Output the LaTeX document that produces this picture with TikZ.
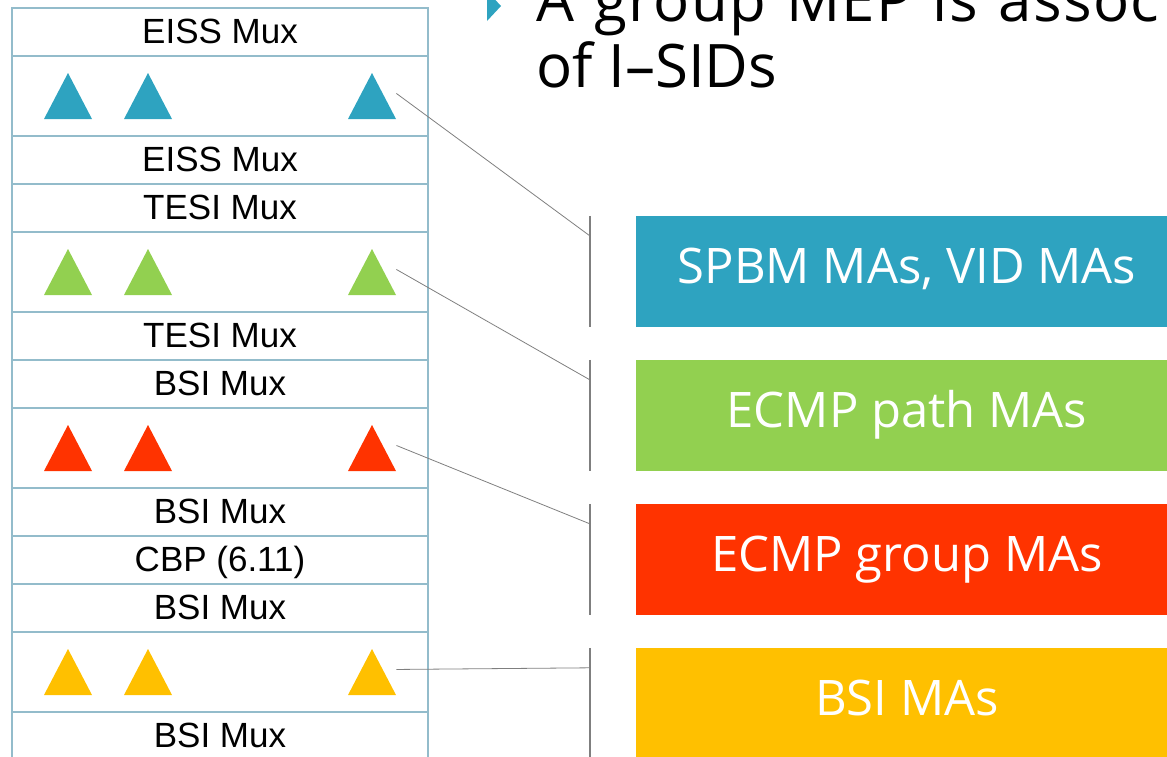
\documentclass[tikz,border=0pt]{standalone}
\usepackage{fontspec}
\setmainfont{Liberation Sans}
\newfontfamily\slidefont{Open Sans}
\usepackage{tikz}
\usetikzlibrary{calc,positioning,shapes.geometric}
\definecolor{stackEdge}{HTML}{93BCCB}
\definecolor{maBlue}{HTML}{2EA3C0}
\definecolor{maGreen}{HTML}{92D050}
\definecolor{maRed}{HTML}{FF3300}
\definecolor{maYellow}{HTML}{FFC000}
\definecolor{figGray}{HTML}{7F7F7F}

\begin{document}
\begin{tikzpicture}[
  x=1pt, y=-1pt,
  muxrow/.style={draw=stackEdge, line width=1.5pt, minimum width=416pt,
    minimum height=48pt, inner sep=0pt, font=\fontsize{35}{40}\selectfont,
    text height=25pt, text depth=2pt},
  mepband/.style={draw=stackEdge, line width=1.5pt, minimum width=416pt,
    minimum height=80pt, inner sep=0pt},
  mep/.style={isosceles triangle, shape border rotate=90,
    isosceles triangle stretches, minimum width=48pt, minimum height=46pt,
    inner sep=0pt, outer sep=0pt, anchor=apex},
  mabox/.style={minimum width=542pt, minimum height=111pt, inner sep=0pt,
    text=white, font=\slidefont\fontsize{49}{55}\selectfont,
    text height=35pt, text depth=12pt},
  title/.style={font=\slidefont\fontsize{60}{66}\selectfont, inner sep=0pt,
    anchor=base west},
  brace/.style={figGray, line width=1.5pt},
  link/.style={figGray, line width=0.8pt},
]
\useasboundingbox (0,0) rectangle (1167,756);

% === Title ===
\fill[maBlue] (487,-9) -- (501,6) -- (487,21) -- cycle;
\node[title] (title-a) at (536,21)
  {\addfontfeature{LetterSpace=2.5}\spaceskip=20pt\relax A group MEP is assoc};
\node[title] (title-b) at (536,87) {of I–SIDs};

% === Stack ===
\node[muxrow] (eiss-a) at (220,32) {EISS Mux};
\node[mepband] (band-spbm) at (220,96) {};
\node[muxrow] (eiss-b) at (220,160) {EISS Mux};
\node[muxrow] (tesi-a) at (220,208) {TESI Mux};
\node[mepband] (band-path) at (220,272) {};
\node[muxrow] (tesi-b) at (220,336) {TESI Mux};
\node[muxrow] (bsi-a) at (220,384) {BSI Mux};
\node[mepband] (band-group) at (220,448) {};
\node[muxrow] (bsi-b) at (220,512) {BSI Mux};
\node[muxrow] (cbp) at (220,560) {CBP (6.11)};
\node[muxrow] (bsi-c) at (220,608) {BSI Mux};
\node[mepband] (band-bsi) at (220,672) {};
\node[muxrow] (bsi-d) at (220,736) {BSI Mux};

% === MEPs ===
\foreach \x [count=\i] in {68,148,372} {
  \node[mep, fill=maBlue] (spbm-m\i) at (\x,73) {};
  \node[mep, fill=maGreen] (path-m\i) at (\x,249) {};
  \node[mep, fill=maRed] (group-m\i) at (\x,425) {};
  \node[mep, fill=maYellow] (bsi-m\i) at (\x,649) {};
}

% === MA boxes ===
\node[mabox, fill=maBlue] (ma-spbm) at (907,271.5) {SPBM MAs, VID MAs};
\node[mabox, fill=maGreen] (ma-path) at (907,415.5) {ECMP path MAs};
\node[mabox, fill=maRed] (ma-group) at (907,559.5) {ECMP group MAs};
\node[mabox, fill=maYellow] (ma-bsi) at (907,703.5) {BSI MAs};

% === Brackets and links ===
\foreach \ma in {spbm,path,group,bsi} {
  \draw[brace] ([xshift=-46pt]ma-\ma.north west) -- ([xshift=-46pt]ma-\ma.south west);
  \coordinate (\ma-j) at ([xshift=-46pt,yshift=-20pt]ma-\ma.north west);
  \draw[link] ([xshift=8pt,yshift=11pt]\ma-m3.east) -- (\ma-j);
}

\end{tikzpicture}
\end{document}
